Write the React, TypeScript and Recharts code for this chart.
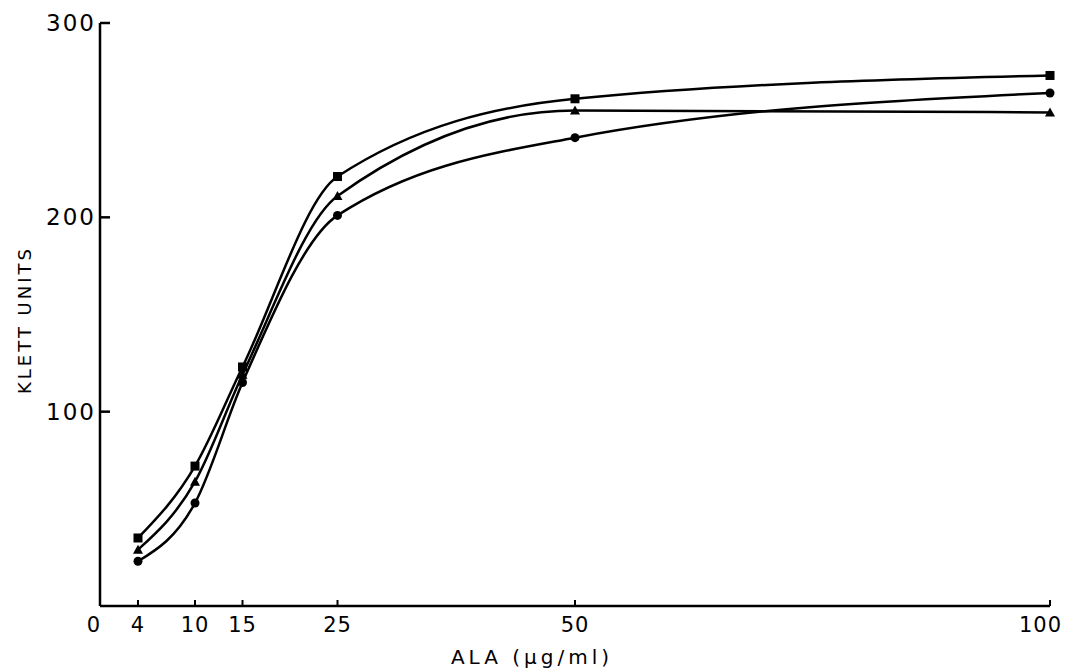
import { LineChart, Line, XAxis, YAxis } from 'recharts'

// ALA concentration (µg/ml)
const ala = [4, 10, 15, 25, 50, 100]
// Klett units for the three cultures
const seriesSquare = [35, 72, 123, 221, 261, 273]
const seriesTriangle = [29, 64, 119, 211, 255, 254]
const seriesDot = [23, 53, 115, 201, 241, 264]

const xTicks = [0, 4, 10, 15, 25, 50, 100]
const yTicks = [100, 200, 300]

const data = ala.map((x, i) => ({
  x,
  sq: seriesSquare[i],
  tri: seriesTriangle[i],
  dot: seriesDot[i],
}))

const FONT = '"DejaVu Sans", "Liberation Sans", sans-serif'

const SquareDot = (p: any) => {
  if (p.cx == null || p.cy == null) return null
  return <rect key={p.key} x={p.cx - 4.5} y={p.cy - 4.5} width={9} height={9} fill="#000" />
}

const TriangleDot = (p: any) => {
  if (p.cx == null || p.cy == null) return null
  const { cx, cy } = p
  return <polygon key={p.key} points={`${cx},${cy - 5} ${cx - 5},${cy + 4} ${cx + 5},${cy + 4}`} fill="#000" />
}

const CircleDot = (p: any) => {
  if (p.cx == null || p.cy == null) return null
  return <circle key={p.key} cx={p.cx} cy={p.cy} r={4.5} fill="#000" />
}

const XTick = (p: any) => {
  const { x, y, payload } = p
  const v = payload.value
  // nudge the end labels the way the original lettering sits
  let tx = x
  let anchor: 'middle' | 'end' = 'middle'
  if (v === 0) tx = x - 6
  if (v === 100) { tx = x + 12; anchor = 'end' }
  return (
    <g>
      {v !== 0 && <line x1={x} x2={x} y1={y - 6} y2={y} stroke="#000" strokeWidth={2} />}
      <text x={tx} y={y + 26} textAnchor={anchor} fontSize={21} letterSpacing={1} fontFamily={FONT} fill="#000">
        {v}
      </text>
    </g>
  )
}

const YTick = (p: any) => {
  const { x, y, payload } = p
  return (
    <g>
      <line x1={x} x2={x + 10} y1={y} y2={y} stroke="#000" strokeWidth={2.5} />
      <text x={x - 4} y={y + 8} textAnchor="end" fontSize={23} letterSpacing={2} fontFamily={FONT} fill="#000">
        {payload.value}
      </text>
    </g>
  )
}

export default function App() {
  return (
    <div style={{ position: 'absolute', left: 0, top: 0, width: 1066, height: 672, background: '#fff' }}>
      <LineChart width={1066} height={672} data={data} margin={{ top: 23, right: 16, bottom: 65, left: 99 }}>
        <XAxis
          dataKey="x"
          type="number"
          domain={[0, 100]}
          ticks={xTicks}
          height={1}
          tickSize={0}
          tickMargin={0}
          tickLine={false}
          tick={<XTick />}
          axisLine={{ stroke: '#000', strokeWidth: 2.5 }}
          interval={0}
        />
        <YAxis
          type="number"
          domain={[0, 300]}
          ticks={yTicks}
          width={1}
          tickSize={0}
          tickMargin={0}
          tickLine={false}
          tick={<YTick />}
          axisLine={{ stroke: '#000', strokeWidth: 2.5 }}
          interval={0}
        />
        <Line type="monotone" dataKey="sq" stroke="#000" strokeWidth={2.5} dot={<SquareDot />} isAnimationActive={false} />
        <Line type="monotone" dataKey="tri" stroke="#000" strokeWidth={2.5} dot={<TriangleDot />} isAnimationActive={false} />
        <Line type="monotone" dataKey="dot" stroke="#000" strokeWidth={2.5} dot={<CircleDot />} isAnimationActive={false} />
        <text x={31} y={320} transform="rotate(-90 31 320)" textAnchor="middle" fontSize={18} letterSpacing={3} fontFamily={FONT} fill="#000">
          KLETT UNITS
        </text>
        <text x={532} y={664} textAnchor="middle" fontSize={20} letterSpacing={4} fontFamily={FONT} fill="#000">
          ALA (µg/ml)
        </text>
      </LineChart>
    </div>
  )
}
